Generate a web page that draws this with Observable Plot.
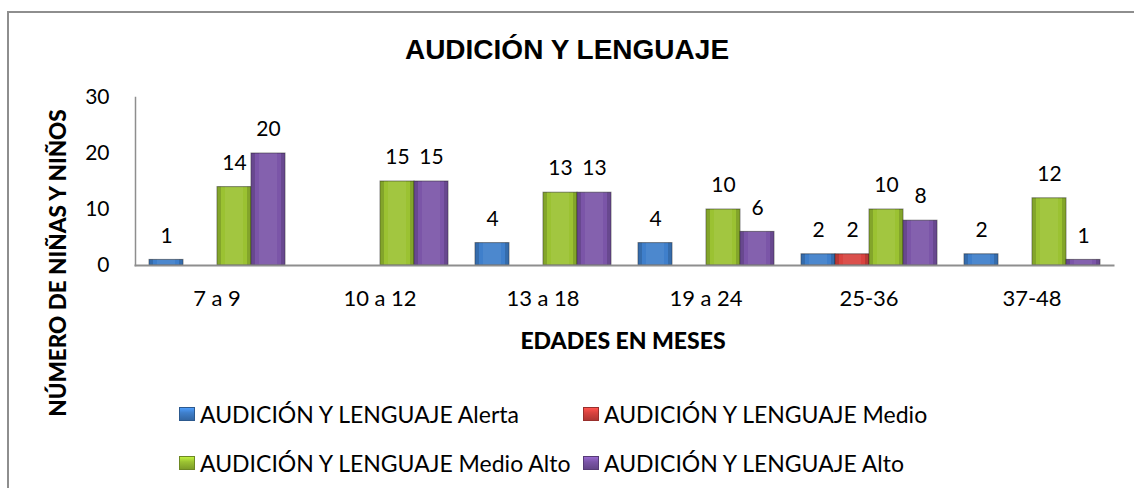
<!DOCTYPE html>
<html>
<head>
<meta charset="utf-8">
<script src="https://cdn.jsdelivr.net/npm/d3@7"></script>
<script src="https://cdn.jsdelivr.net/npm/@observablehq/plot@0.6"></script>
<style>
  html, body { margin: 0; padding: 0; background: #fff; }
  #wrap { position: relative; width: 1134px; height: 488px; overflow: hidden; background: #fff; font-family: Lato, "Open Sans", sans-serif; color: #000; }
  #border { position: absolute; left: 7px; top: 11px; width: 1200px; height: 600px; border: 2px solid #8e8e8e; box-sizing: border-box; }
  #title { position: absolute; left: 0; width: 1134px; top: 35px; text-align: center; font-family: "Liberation Sans", Arial, sans-serif; font-weight: bold; font-size: 28px; line-height: 30px; }
  #ytitle { position: absolute; left: 58px; top: 263px; transform: translate(-50%, -50%) rotate(-90deg); white-space: nowrap; font-weight: 900; font-size: 22.5px; line-height: 24px; }
  #xtitle { position: absolute; left: 623px; top: 340px; transform: translate(-50%, -50%); white-space: nowrap; font-weight: 900; font-size: 23px; line-height: 26px; }
  #chart { position: absolute; left: 0; top: 60px; }
  .leg { position: absolute; display: flex; align-items: center; white-space: nowrap; font-size: 23px; line-height: 26px; transform: translateY(-50%); }
  .sw { width: 16px; height: 14px; margin-right: 5px; box-sizing: border-box; }
</style>
</head>
<body>
<div id="wrap">
  <div id="border"></div>
  <div id="title"></div>
  <div id="ytitle"></div>
  <div id="xtitle"></div>
  <div id="chart"></div>
  <div id="legend"></div>
</div>
<script>
// ---- data ----
const chartTitle = "AUDICIÓN Y LENGUAJE";
const yTitle = "NÚMERO DE NIÑAS Y NIÑOS";
const xTitle = "EDADES EN MESES";
const ages = ["7 a 9", "10 a 12", "13 a 18", "19 a 24", "25-36", "37-48"];
const seriesNames = [
  "AUDICIÓN Y LENGUAJE Alerta",
  "AUDICIÓN Y LENGUAJE Medio",
  "AUDICIÓN Y LENGUAJE Medio Alto",
  "AUDICIÓN Y LENGUAJE Alto"
];
const alerta    = [1, 0, 4, 4, 2, 2];
const medio     = [0, 0, 0, 0, 2, 0];
const medioAlto = [14, 15, 13, 10, 10, 12];
const alto      = [20, 15, 13, 6, 8, 1];
const yTicks = [0, 10, 20, 30];
const colors = ["#3f7fcb", "#d9433f", "#9bc232", "#7b55a8"];

// ---- build table ----
const seriesValues = [alerta, medio, medioAlto, alto];
const data = ages.flatMap((age, i) =>
  seriesValues.map((arr, j) => ({ age, series: seriesNames[j], value: arr[i] }))
);
const shown = data.filter(d => d.value > 0);

document.getElementById("title").textContent = chartTitle;
document.getElementById("ytitle").textContent = yTitle;
document.getElementById("xtitle").textContent = xTitle;

const chart = Plot.plot({
  width: 1134,
  height: 300,
  marginLeft: 147,
  marginRight: 34,
  marginTop: 37,
  marginBottom: 95,
  style: { fontFamily: "Lato, 'Open Sans', sans-serif", color: "#000", background: "transparent", overflow: "visible" },
  fx: { domain: ages, paddingInner: 0.16, paddingOuter: 0, label: null },
  x: { domain: seriesNames, padding: 0, axis: null },
  y: { domain: [0, 30], label: null },
  color: { domain: seriesNames, range: colors },
  marks: [
    // base bar with darker outline
    Plot.barY(shown, { fx: "age", x: "series", y: "value", fill: "series", stroke: "#1a1a1a", strokeOpacity: 0.5, strokeWidth: 1 }),
    // darker side faces
    Plot.barY(shown, { fx: "age", x: "series", y: "value", fill: "#000", fillOpacity: 0.15, insetLeft: 0.5, insetRight: 30 }),
    Plot.barY(shown, { fx: "age", x: "series", y: "value", fill: "#000", fillOpacity: 0.15, insetLeft: 30, insetRight: 0.5 }),
    // slight highlight in the centre
    Plot.barY(shown, { fx: "age", x: "series", y: "value", fill: "#fff", fillOpacity: 0.07, insetLeft: 8, insetRight: 8, insetBottom: 0.5 }),
    Plot.text(shown, { fx: "age", x: "series", y: "value", text: "value", dy: -24, fontSize: 21, fill: "#000" }),
    Plot.axisY({ ticks: yTicks, tickSize: 0, tickPadding: 39, label: null, fontSize: 21 }),
    Plot.axisFx({ anchor: "bottom", tickSize: 0, tickPadding: 25, label: null, fontSize: 22 }),
    Plot.frame({ anchor: "bottom", facet: "super", insetLeft: -13, insetRight: -13, stroke: "#8e8e8e", strokeWidth: 2 }),
    Plot.frame({ anchor: "left", facet: "super", insetLeft: -13, stroke: "#8e8e8e", strokeWidth: 1.5 })
  ]
});
document.getElementById("chart").appendChild(chart);

// legend
const legend = document.getElementById("legend");
const legPos = [[179, 414], [583, 414], [179, 463], [583, 463]];
seriesNames.forEach((name, i) => {
  const item = document.createElement("div");
  item.className = "leg";
  item.style.left = legPos[i][0] + "px";
  item.style.top = legPos[i][1] + "px";
  const sw = document.createElement("div");
  sw.className = "sw";
  const c = d3.color(colors[i]);
  sw.style.background = `linear-gradient(180deg, ${c.brighter(0.6).formatHex()} 0%, ${c.formatHex()} 40%, ${c.darker(0.6).formatHex()} 100%)`;
  sw.style.border = "1px solid " + c.darker(1).formatHex();
  const t = document.createElement("span");
  t.textContent = name;
  item.appendChild(sw);
  item.appendChild(t);
  legend.appendChild(item);
});
</script>
</body>
</html>
